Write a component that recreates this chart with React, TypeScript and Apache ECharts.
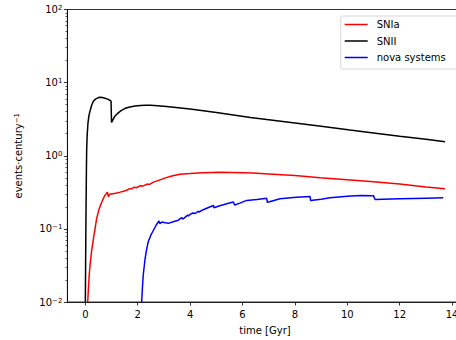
import React, { useEffect, useRef } from "react";
import * as echarts from "echarts";

// ---- data ----
const snIaX = [0.09, 0.12, 0.15, 0.18, 0.24, 0.31, 0.37, 0.43, 0.52, 0.63, 0.73, 0.84, 0.88, 0.93, 1.0, 1.1, 1.2, 1.33, 1.49, 1.6, 1.7, 1.75, 1.85, 1.95, 2.1, 2.2, 2.35, 2.45, 2.6, 2.8, 3.0, 3.3, 3.61, 4.0, 4.5, 5.14, 5.6, 6.4, 7.0, 8.0, 8.96, 10.0, 11.0, 12.0, 13.0, 13.73];
const snIaY = [0.01, 0.016, 0.024, 0.032, 0.05, 0.074, 0.1, 0.138, 0.185, 0.233, 0.28, 0.318, 0.275, 0.3, 0.3, 0.305, 0.31, 0.318, 0.33, 0.34, 0.355, 0.35, 0.37, 0.365, 0.39, 0.385, 0.41, 0.405, 0.436, 0.46, 0.49, 0.53, 0.56, 0.57, 0.585, 0.594, 0.59, 0.58, 0.565, 0.535, 0.5, 0.47, 0.44, 0.41, 0.375, 0.353];

const snIIX = [0.0, 0.02, 0.04, 0.05, 0.07, 0.1, 0.14, 0.18, 0.24, 0.31, 0.4, 0.5, 0.56, 0.65, 0.75, 0.85, 0.95, 0.98, 1.0, 1.05, 1.12, 1.2, 1.35, 1.52, 1.7, 1.9, 2.1, 2.3, 2.5, 3.0, 4.0, 5.0, 6.3, 7.0, 8.0, 9.0, 10.1, 11.0, 12.0, 13.0, 13.73];
const snIIY = [0.01, 0.1, 0.6, 1.2, 1.9, 2.8, 3.6, 4.1, 4.9, 5.6, 6.0, 6.25, 6.3, 6.25, 6.1, 5.95, 5.7, 5.6, 2.85, 3.1, 3.45, 3.7, 4.1, 4.45, 4.65, 4.8, 4.87, 4.9, 4.9, 4.75, 4.36, 3.9, 3.33, 3.1, 2.8, 2.53, 2.25, 2.05, 1.85, 1.68, 1.55];

const novaX = [2.15, 2.18, 2.21, 2.28, 2.34, 2.4, 2.5, 2.6, 2.7, 2.81, 2.85, 2.92, 3.05, 3.17, 3.35, 3.55, 3.62, 3.68, 3.72, 3.85, 3.9, 3.94, 4.0, 4.1, 4.2, 4.3, 4.34, 4.5, 4.7, 4.89, 4.91, 5.1, 5.3, 5.5, 5.65, 5.7, 5.9, 6.16, 6.55, 6.92, 6.95, 7.2, 7.43, 8.06, 8.58, 8.6, 9.0, 9.34, 10.0, 10.5, 11.0, 11.06, 12.0, 13.0, 13.66];
const novaY = [0.01, 0.016, 0.0234, 0.039, 0.053, 0.0665, 0.082, 0.0957, 0.112, 0.128, 0.118, 0.124, 0.121, 0.119, 0.125, 0.131, 0.138, 0.142, 0.136, 0.148, 0.155, 0.15, 0.158, 0.165, 0.162, 0.174, 0.17, 0.183, 0.196, 0.209, 0.195, 0.205, 0.215, 0.226, 0.233, 0.212, 0.225, 0.245, 0.253, 0.262, 0.231, 0.245, 0.258, 0.27, 0.277, 0.244, 0.255, 0.266, 0.28, 0.285, 0.283, 0.252, 0.258, 0.263, 0.266];

const seriesNames = ["SNIa", "SNII", "nova systems"];
const seriesColors = ["#ff0000", "#000000", "#0000ff"];

const xTicks = [0, 2, 4, 6, 8, 10, 12, 14];
const yMajorTicks = [0.01, 0.1, 1, 10, 100];
const yMinorTicks = [
  0.02, 0.03, 0.04, 0.05, 0.06, 0.07, 0.08, 0.09,
  0.2, 0.3, 0.4, 0.5, 0.6, 0.7, 0.8, 0.9,
  2, 3, 4, 5, 6, 7, 8, 9,
  20, 30, 40, 50, 60, 70, 80, 90,
];

const FONT = "DejaVu Sans";
const LINE_ICON = "path://M0,0L1,0L0,0ZM0,13L1,13L0,13ZM0,5.75L23,5.75L23,7.25L0,7.25Z";

function pairs(xs: number[], ys: number[]) {
  return xs.map((x, i) => [x, ys[i]]);
}

function expLabel(v: number) {
  const e = Math.round(Math.log10(v));
  const s = e < 0 ? "\u2212" + -e : String(e);
  return `{b|10}{e|${s}}`;
}

export default function App() {
  const ref = useRef<HTMLDivElement>(null);
  useEffect(() => {
    if (!ref.current) return;
    const chart = echarts.init(ref.current, undefined, { renderer: "svg" });
    const data = [pairs(snIaX, snIaY), pairs(snIIX, snIIY), pairs(novaX, novaY)];
    const yBase = {
      type: "log" as const,
      logBase: 10,
      min: 0.01,
      max: 100,
      position: "left" as const,
    };
    chart.setOption({
      animation: false,
      textStyle: { fontFamily: FONT },
      grid: {
        left: 67.4,
        top: 9.5,
        right: 7.4,
        bottom: 35.5,
        show: true,
        borderColor: "#000",
        borderWidth: 0.8,
        backgroundColor: "transparent",
      },
      legend: {
        data: seriesNames.map((n) => ({ name: n, icon: LINE_ICON })),
        orient: "vertical",
        align: "left",
        left: 340.7,
        top: 16,
        padding: [2, 14, 5, 4],
        itemWidth: 23,
        itemHeight: 13,
        itemGap: 3.5,
        backgroundColor: "rgba(255,255,255,0.8)",
        borderColor: "#cccccc",
        borderWidth: 0.8,
        borderRadius: 2,
        textStyle: { fontSize: 10, color: "#000", fontFamily: FONT, padding: [0, 0, 0, 4] },
      },
      xAxis: {
        type: "value",
        min: -0.685,
        max: 14.4,
        name: "time [Gyr]",
        nameLocation: "middle",
        nameGap: 23,
        nameTextStyle: { fontSize: 10, color: "#000", fontFamily: FONT },
        axisLine: { show: true, onZero: false, lineStyle: { color: "#000", width: 0.8 } },
        axisTick: { show: true, length: 3.5, lineStyle: { color: "#000", width: 0.8 }, customValues: xTicks },
        axisLabel: { fontSize: 10, color: "#000", margin: 7, fontFamily: FONT, customValues: xTicks },
        splitLine: { show: false },
      },
      yAxis: [
        {
          ...yBase,
          name: "events\u00b7century{e|\u22121}",
          nameLocation: "middle",
          nameGap: 44,
          nameTextStyle: {
            fontSize: 10,
            color: "#000",
            fontFamily: FONT,
            rich: { e: { fontSize: 7, verticalAlign: "top", color: "#000", fontFamily: FONT } },
          },
          axisLine: { show: true, onZero: false, lineStyle: { color: "#000", width: 0.8 } },
          axisTick: { show: true, length: 3.5, lineStyle: { color: "#000", width: 0.8 }, customValues: yMajorTicks },
          axisLabel: {
            margin: 5,
            customValues: yMajorTicks,
            formatter: expLabel,
            rich: {
              b: { fontSize: 10, color: "#000", fontFamily: FONT },
              e: { fontSize: 7, color: "#000", fontFamily: FONT, verticalAlign: "top" },
            },
          },
          splitLine: { show: false },
        },
        {
          ...yBase,
          axisLine: { show: false, onZero: false },
          axisTick: { show: true, length: 2, lineStyle: { color: "#000", width: 0.6 }, customValues: yMinorTicks },
          axisLabel: { show: false },
          splitLine: { show: false },
        },
      ],
      series: seriesNames.map((name, i) => ({
        name,
        type: "line",
        data: data[i],
        yAxisIndex: 0,
        symbol: "none",
        showSymbol: false,
        color: seriesColors[i],
        lineStyle: { color: seriesColors[i], width: 1.5 },
        clip: true,
      })),
    });
    return () => chart.dispose();
  }, []);
  return (
    <div style={{ position: "fixed", left: 0, top: 0, width: 456, height: 340, overflow: "hidden", background: "#fff" }}>
      <div ref={ref} style={{ width: 470, height: 340 }} />
    </div>
  );
}
